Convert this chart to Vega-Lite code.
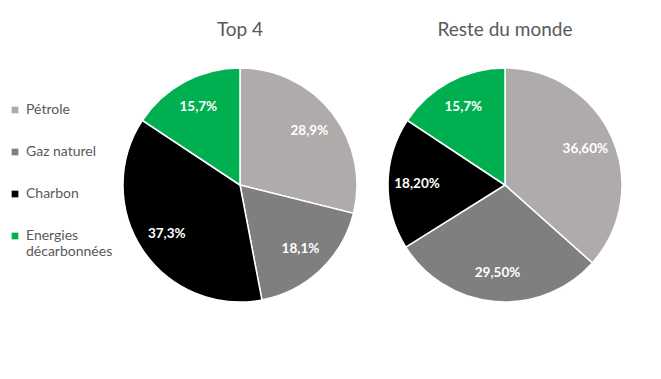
{
  "$schema": "https://vega.github.io/schema/vega-lite/v6.json",
  "background": "white",
  "padding": {"left": 8, "top": 21, "right": 5, "bottom": 5},
  "data": {"values": [
    {"zone": "Top 4", "source": "Pétrole", "ordre": 1, "value": 28.9, "label": "28,9%"},
    {"zone": "Top 4", "source": "Gaz naturel", "ordre": 2, "value": 18.1, "label": "18,1%"},
    {"zone": "Top 4", "source": "Charbon", "ordre": 3, "value": 37.3, "label": "37,3%"},
    {"zone": "Top 4", "source": "Energies décarbonnées", "ordre": 4, "value": 15.7, "label": "15,7%"},
    {"zone": "Reste du monde", "source": "Pétrole", "ordre": 1, "value": 36.6, "label": "36,60%"},
    {"zone": "Reste du monde", "source": "Gaz naturel", "ordre": 2, "value": 29.5, "label": "29,50%"},
    {"zone": "Reste du monde", "source": "Charbon", "ordre": 3, "value": 18.2, "label": "18,20%"},
    {"zone": "Reste du monde", "source": "Energies décarbonnées", "ordre": 4, "value": 15.7, "label": "15,7%"}
  ]},
  "facet": {
    "column": {
      "field": "zone", "type": "nominal", "sort": ["Top 4", "Reste du monde"],
      "header": {"title": null, "labelFontSize": 19, "labelColor": "#595959", "labelFont": "Lato", "labelPadding": 20}
    }
  },
  "spacing": 15,
  "spec": {
    "width": 250,
    "height": 250,
    "encoding": {
      "theta": {"field": "value", "type": "quantitative", "stack": true},
      "order": {"field": "ordre", "type": "quantitative"},
      "color": {
        "field": "source", "type": "nominal",
        "scale": {"domain": ["Pétrole", "Gaz naturel", "Charbon", "Energies décarbonnées"], "range": ["#AFABAB", "#7F7F7F", "#000000", "#00B050"]},
        "legend": {
          "title": null, "orient": "none", "legendX": -107, "legendY": 43, "padding": 0,
          "symbolType": "square", "symbolSize": 45, "symbolStrokeWidth": 0, "labelOffset": 4,
          "labelFontSize": 14, "labelColor": "#595959", "labelFont": "Lato", "rowPadding": 28,
          "labelExpr": "datum.label == 'Energies décarbonnées' ? ['Energies', 'décarbonnées'] : datum.label",
          "encode": {"labels": {"update": {"dy": {"signal": "datum.value == 'Energies décarbonnées' ? 8.5 : 0"}}}}
        }
      }
    },
    "layer": [
      {"mark": {"type": "arc", "outerRadius": 117, "stroke": "white", "strokeWidth": 1.5}},
      {"mark": {"type": "text", "radius": 88, "fontWeight": "bold", "fontSize": 13.5, "font": "Lato"},
       "encoding": {"text": {"field": "label"}, "color": {"value": "white"}}}
    ]
  },
  "config": {"view": {"stroke": null}}
}
